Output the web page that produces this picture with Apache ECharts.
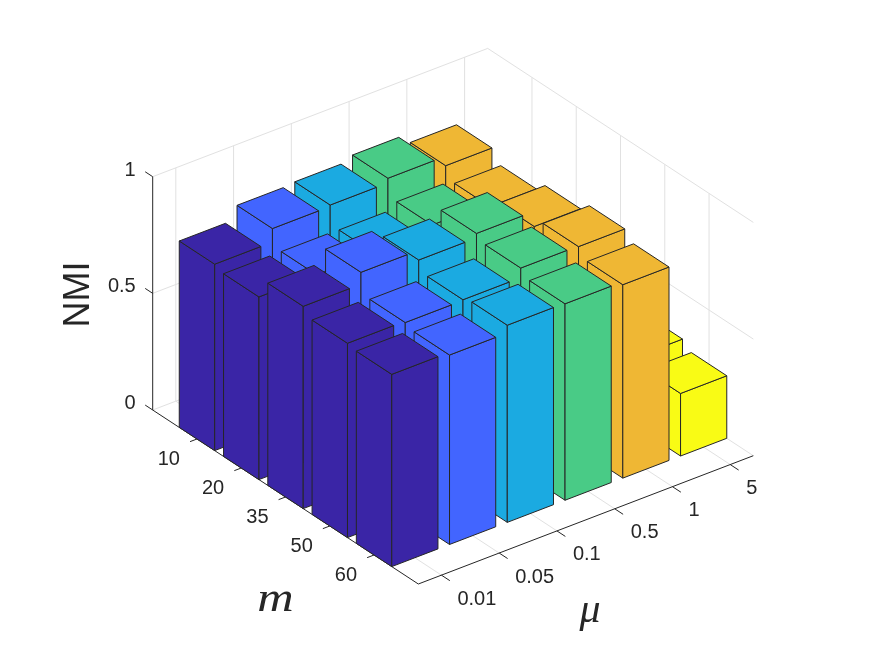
<!DOCTYPE html>
<html>
<head>
<meta charset="utf-8">
<script src="https://cdn.jsdelivr.net/npm/echarts@6/dist/echarts.min.js"></script>
<style>html,body{margin:0;padding:0;background:#fff}#c{width:875px;height:656px}</style>
</head>
<body>
<div id="c"></div>
<script>
// ---- data (rows follow mLabels) ----
const muLabels = ['0.01', '0.05', '0.1', '0.5', '1', '5'];
const mLabels = ['10', '20', '35', '50', '60'];
const zTicks = [0, 0.5, 1];
const nmiMu001 = [0.799, 0.783, 0.867, 0.833, 0.824];
const nmiMu005 = [0.857, 0.783, 0.918, 0.827, 0.812];
const nmiMu01 = [0.863, 0.781, 0.876, 0.830, 0.845];
const nmiMu05 = [0.883, 0.807, 0.895, 0.871, 0.842];
const nmiMu1 = [0.842, 0.791, 0.830, 0.868, 0.829];
const nmiMu5 = [0.28, 0.28, 0.28, 0.301, 0.268];
const muSeries = [nmiMu001, nmiMu005, nmiMu01, nmiMu05, nmiMu1, nmiMu5];
const muColors = ['#3A25A6', '#4265FF', '#1BAAE1', '#49CB86', '#EFB734', '#F9FB15'];

// ---- 3D view: parallel projection of (mu position, m position, NMI) ----
const INK = '#262626', GRID = '#E1E1E1';
const O = [152.7, 410], MU = [57.76, -22.12], M = [44.27, 29], Z = 233.3;
const MU0 = 0.6, MU1 = 6.4, M0 = 0, M1 = 6, HW = 0.4;
function proj(mu, m, z) {
  return [O[0] + (mu - MU0) * MU[0] + (m - M0) * M[0],
          O[1] + (mu - MU0) * MU[1] + (m - M0) * M[1] - z * Z];
}

const gridLines = [], axisLines = [];
const muPos = muLabels.map((_, i) => i + 1), mPos = mLabels.map((_, i) => i + 1);
muPos.forEach(u => {
  gridLines.push([[u, M0, 0], [u, M0, 1]], [[u, M0, 0], [u, M1, 0]]);
  axisLines.push([[u, M1, 0], [u, M1 + 0.19, 0]]);
});
mPos.forEach(v => {
  gridLines.push([[MU1, v, 0], [MU1, v, 1]], [[MU0, v, 0], [MU1, v, 0]]);
  axisLines.push([[MU0, v, 0], [MU0 - 0.12, v, 0]]);
});
zTicks.forEach(z => {
  gridLines.push([[MU0, M0, z], [MU1, M0, z]], [[MU1, M0, z], [MU1, M1, z]]);
  axisLines.push([[MU0, M0, z], [MU0, M0 - 0.17, z]]);
});
axisLines.push([[MU0, M0, 0], [MU0, M0, 1]], [[MU0, M0, 0], [MU0, M1, 0]], [[MU0, M1, 0], [MU1, M1, 0]]);

function lineSeries(list, color, width) {
  return {
    type: 'custom', coordinateSystem: 'cartesian2d', silent: true, animation: false, clip: false,
    data: list.map((_, i) => [i]),
    renderItem(params, api) {
      const l = list[api.value(0)];
      const a = api.coord(proj(...l[0])), b = api.coord(proj(...l[1]));
      return { type: 'line', shape: { x1: a[0], y1: a[1], x2: b[0], y2: b[1] },
               style: { stroke: color, lineWidth: width, fill: null } };
    }
  };
}

function barSeries(c) {
  const values = muSeries[c], u = c + 1;
  return {
    type: 'custom', name: 'mu=' + muLabels[c], coordinateSystem: 'cartesian2d', animation: false, clip: false,
    data: values.map((v, r) => [r, v]),
    renderItem(params, api) {
      const v = api.value(0) + 1, h = api.value(1);
      const poly = pts => ({ type: 'polygon',
        shape: { points: pts.map(p => api.coord(proj(...p))) },
        style: { fill: muColors[c], stroke: INK, lineWidth: 1, lineJoin: 'round' } });
      const a = u - HW, b = u + HW, f = v + HW, k = v - HW;
      return { type: 'group', children: [
        poly([[a, f, 0], [a, k, 0], [a, k, h], [a, f, h]]),
        poly([[a, f, 0], [b, f, 0], [b, f, h], [a, f, h]]),
        poly([[a, k, h], [b, k, h], [b, f, h], [a, f, h]])
      ] };
    }
  };
}

// tick labels: anchored on the projected tick, then offset
const labels = [];
const TICK = { font: '20px "Liberation Sans"', fill: INK };
mPos.forEach((v, i) => labels.push({ text: mLabels[i], at: proj(MU0, v, 0), dx: -17, dy: 20.5, align: 'right', ...TICK }));
muPos.forEach((u, i) => labels.push({ text: muLabels[i], at: proj(u, M1, 0), dx: 16, dy: 24, align: 'left', ...TICK }));
zTicks.forEach(z => labels.push({ text: String(z), at: proj(MU0, M0, z), dx: -17, dy: -6.5, align: 'right', ...TICK }));
labels.push({ text: 'm', at: [275.5, 600], dx: 0, dy: 0, align: 'center', sx: 1.2, font: 'italic 42px "Liberation Serif"', fill: INK });
labels.push({ text: 'μ', at: [590, 611], dx: 0, dy: 0, align: 'center', font: 'italic 42px "Liberation Serif"', fill: INK });
labels.push({ text: 'NMI', at: [79.5, 294.5], dx: 0, dy: 0, align: 'center', rot: Math.PI / 2, font: '36px "Liberation Sans"', fill: INK });

const labelSeries = {
  type: 'custom', coordinateSystem: 'cartesian2d', silent: true, animation: false, clip: false,
  data: labels.map((_, i) => [i]),
  renderItem(params, api) {
    const t = labels[api.value(0)], p = api.coord(t.at);
    return { type: 'text', x: p[0] + t.dx, y: p[1] + t.dy, rotation: t.rot || 0, scaleX: t.sx || 1,
             style: { text: t.text, font: t.font, fill: t.fill, align: t.align, verticalAlign: 'middle' } };
  }
};

const chart = echarts.init(document.getElementById('c'), null, { renderer: 'canvas' });
chart.setOption({
  animation: false,
  backgroundColor: '#ffffff',
  grid: { left: 0, right: 0, top: 0, bottom: 0 },
  xAxis: { type: 'value', min: 0, max: 875, show: false },
  yAxis: { type: 'value', min: 0, max: 656, inverse: true, show: false },
  series: [
    lineSeries(gridLines, GRID, 1),
    lineSeries(axisLines, INK, 1),
    ...[5, 4, 3, 2, 1, 0].map(barSeries),
    labelSeries
  ]
});
</script>
</body>
</html>
